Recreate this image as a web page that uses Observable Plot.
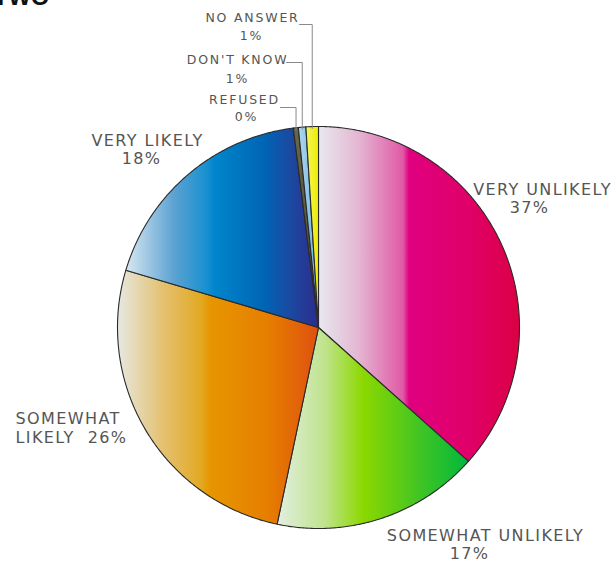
<!DOCTYPE html>
<html><head><meta charset="utf-8">
<script src="https://cdn.jsdelivr.net/npm/d3@7"></script>
<script src="https://cdn.jsdelivr.net/npm/@observablehq/plot@0.6"></script>
<style>
body{margin:0;background:#fff}
#chart svg{display:block;overflow:hidden}
</style>
</head><body><div id="chart"></div>
<script>
// ---- data ----
const categories = ["VERY UNLIKELY","SOMEWHAT UNLIKELY","SOMEWHAT LIKELY","VERY LIKELY","REFUSED","DON'T KNOW","NO ANSWER"];
const values = [36.6, 16.7, 26.3, 18.4, 0.4, 0.6, 1.0];
const pctLabels = values.map(v => Math.round(v) + "%");
const titleText = "TWO";

// ---- styles ----
const gradients = [
  [[0,"#e8e8ef"],[0.2,"#e4b6d2"],[0.42,"#e05aa6"],[0.45,"#e00080"],[0.75,"#e00068"],[1,"#dc0044"]],
  [[0,"#e2efe0"],[0.25,"#bfe38c"],[0.45,"#8cd800"],[0.75,"#40c424"],[1,"#00b83c"]],
  [[0,"#e6e8e2"],[0.22,"#e4c274"],[0.42,"#e2a820"],[0.46,"#e69600"],[0.75,"#e67e00"],[1,"#e05010"]],
  [[0,"#d8e7f1"],[0.25,"#5ca2d2"],[0.42,"#1890d0"],[0.46,"#0086cc"],[0.72,"#0064b4"],[0.86,"#1c48a0"],[1,"#2c2c8c"]],
  [[0,"#6a6a4a"],[1,"#4a4a30"]],
  [[0,"#b0d8f0"],[1,"#6ab0e0"]],
  [[0,"#f4f460"],[1,"#eeee00"]]
];
const W = 613, H = 563, cx = 318, cy = 327, R = 201;
const mainFont = 16, smallFont = 12.5;
const spacing = {16: "1.4px", 12.5: "1.8px"};
// label layout (pixel anchors)
const layout = [
  {anchor:"middle", name:[542,194], pct:[529,212], size:mainFont},
  {anchor:"middle", name:[485,540], pct:[469,558], size:mainFont},
  {anchor:"start", split:true, name:[15,423], pct:[15,442], size:mainFont},
  {anchor:"middle", name:[147,145], pct:[141,163], size:mainFont},
  {anchor:"middle", name:[244,103], pct:[246,120], size:smallFont, leader:[280,107]},
  {anchor:"middle", name:[237,63], pct:[237,82], size:smallFont, leader:[286,62]},
  {anchor:"middle", name:[252,21], pct:[251,39], size:smallFont, leader:[299,24]}
];

// ---- geometry ----
const arcs = d3.pie().sort(null).value(d => d)(values);
const pt = (a, r = R) => [cx + r * Math.sin(a), cy - r * Math.cos(a)];
const sliceMarks = arcs.map((a, i) => {
  const pts = [[cx, cy]];
  const n = Math.max(2, Math.ceil((a.endAngle - a.startAngle) / (Math.PI / 360)));
  for (let k = 0; k <= n; k++) pts.push(pt(a.startAngle + (a.endAngle - a.startAngle) * k / n));
  pts.push([cx, cy]);
  return Plot.line(pts, {x: d => d[0], y: d => d[1], fill: `url(#grad${i})`, stroke: "#2a2a2a", strokeWidth: 1.1, strokeLinejoin: "round"});
});

const leaderRows = [];
arcs.forEach((a, i) => {
  const L = layout[i];
  if (!L.leader) return;
  const mid = (a.startAngle + a.endAngle) / 2;
  const [ex, ey] = pt(mid, R - 2);
  leaderRows.push({i, x: L.leader[0], y: L.leader[1]});
  leaderRows.push({i, x: ex, y: L.leader[1]});
  leaderRows.push({i, x: ex, y: ey});
});

const textRows = [];
categories.forEach((c, i) => {
  const L = layout[i];
  if (L.split) {
    const w = c.split(" ");
    textRows.push({t: w[0], x: L.name[0], y: L.name[1], a: L.anchor, s: L.size});
    textRows.push({t: w[1] + "\u00a0 " + pctLabels[i], x: L.pct[0], y: L.pct[1], a: L.anchor, s: L.size});
  } else {
    textRows.push({t: c, x: L.name[0], y: L.name[1], a: L.anchor, s: L.size});
    textRows.push({t: pctLabels[i], x: L.pct[0], y: L.pct[1], a: "middle", s: L.size});
  }
});

function defsMark() {
  const defs = d3.create("svg:defs");
  gradients.forEach((stops, i) => {
    const g = defs.append("linearGradient").attr("id", "grad" + i)
      .attr("x1", 0).attr("y1", 0).attr("x2", 1).attr("y2", 0);
    stops.forEach(([o, c]) => g.append("stop").attr("offset", o).attr("stop-color", c));
  });
  return defs.node();
}

const textMark = (rows, anchor, size) => Plot.text(rows.filter(d => d.a === anchor && d.s === size), {
  x: "x", y: d => d.y - 0.32 * size, text: "t", textAnchor: anchor, lineAnchor: "middle",
  fontSize: size, fill: "#555", fontFamily: "DejaVu Sans, Verdana, sans-serif"
});

const plot = Plot.plot({
  width: W, height: H, margin: 0,
  x: {domain: [0, W], range: [0, W], axis: null},
  y: {domain: [0, H], range: [0, H], axis: null},
  marks: [
    defsMark,
    ...sliceMarks,
    Plot.line(leaderRows, {x: "x", y: "y", z: "i", stroke: "#8a8a8a", strokeWidth: 1}),
    textMark(textRows, "start", mainFont),
    textMark(textRows, "middle", mainFont),
    textMark(textRows, "middle", smallFont),
    Plot.text([titleText], {x: () => 49, y: () => 4, text: d => d, textAnchor: "end", lineAnchor: "bottom",
      fontSize: 24, fontWeight: "bold", fill: "#111", fontFamily: "Liberation Sans, Arial, sans-serif"})
  ]
});
d3.select(plot).selectAll("g[font-size]").each(function () {
  const fs = +this.getAttribute("font-size");
  if (spacing[fs]) d3.select(this).style("letter-spacing", spacing[fs]);
});
document.getElementById("chart").append(plot);
</script>
</body></html>
